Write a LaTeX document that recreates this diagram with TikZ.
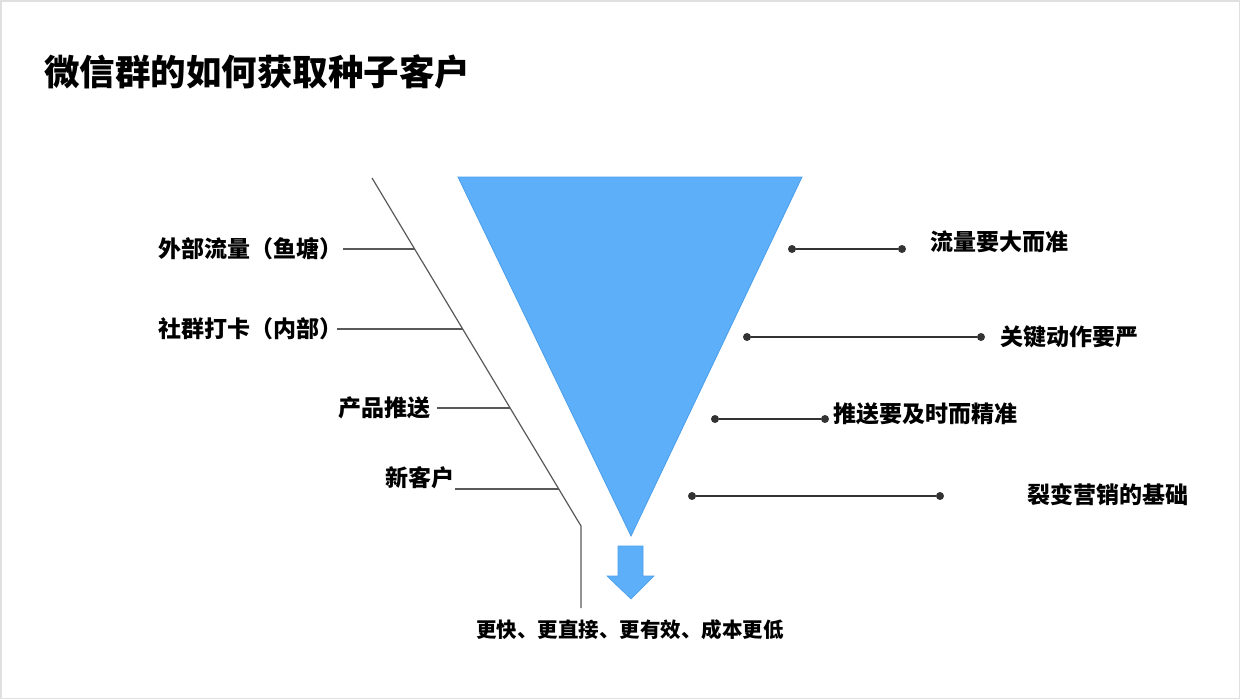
\documentclass[tikz,border=0pt]{standalone}
\usepackage{fontspec}
\usepackage{xcolor}
\usetikzlibrary{shapes, positioning}
\newfontfamily\cjk{Noto Sans CJK SC}
\definecolor{funnelblue}{HTML}{5DAFF9}
\definecolor{funneledge}{HTML}{4A9EEA}
\definecolor{darkline}{HTML}{333333}
\tikzset{
    lbl/.style={inner sep=0pt, font=\cjk\bfseries\fontsize{23}{25}\selectfont},
    pin/.style={circle, fill=darkline, inner sep=0pt, minimum size=8pt},
    thin/.style={draw=black!65, line width=1.2pt},
    rule/.style={draw=darkline, line width=1.6pt}
}

\begin{document}
\begin{tikzpicture}[x=1pt, y=-1pt]
        \useasboundingbox (0, 0) rectangle (1240, 699);
        \draw[black!12, line width=3pt] (0, 0) rectangle (1240, 699);
        
        \node[lbl, anchor=west, font=\cjk\bfseries\fontsize{35.5}{38}\selectfont] (title) at (44, 72) {微信群的如何获取种子客户};
        
        % funnel
        \coordinate (tl) at (458, 177);
        \coordinate (tr) at (802, 177);
        \coordinate (tip) at (631, 536);
        \fill[funnelblue, draw=funneledge, line width=0.8pt] (tl) -- (tr) -- (tip) -- cycle;
        
        % outer side line
        \coordinate (s0) at (372, 178);
        \coordinate (s1) at (415, 249);
        \coordinate (s2) at (463, 329);
        \coordinate (s3) at (510, 408);
        \coordinate (s4) at (559, 489);
        \coordinate (s5) at (581, 526);
        \coordinate (s6) at (581, 608);
        \draw[thin] (s0) -- (s5) -- (s6);
        
        \node[lbl, anchor=east] (a) at (343, 249) {外部流量（鱼塘）};
        \node[lbl, anchor=east] (b) at (343, 329) {社群打卡（内部）};
        \node[lbl, anchor=east] (c) at (431, 408) {产品推送};
        \node[lbl, anchor=south east] (d) at (455, 489) {新客户};
        
        \draw[thin] (a.east) to (s1)
            ([xshift=-6pt]b.east) to (s2)
            ([xshift=6pt]c.east) to (s3)
            (d.south east) to (s4);
        
        % right side rules
        \node[pin] (p1) at (792, 249) {};
        \node[pin] (q1) at (902, 249) {};
        \node[pin] (p2) at (747, 337) {};
        \node[pin] (q2) at (981, 337) {};
        \node[pin] (p3) at (715, 419) {};
        \node[pin] (q3) at (825, 419) {};
        \node[pin] (p4) at (692, 496) {};
        \node[pin] (q4) at (940, 496) {};
        
        \draw[rule] (p1) to (q1)
            (p2) to (q2)
            (p3) to (q3)
            (p4) to (q4);
        
        \node[lbl, anchor=west] (e) at (930, 242) {流量要大而准};
        \node[lbl, anchor=west] (f) at (1000, 337) {关键动作要严};
        \node[lbl, anchor=west] (g) at (833, 414) {推送要及时而精准};
        \node[lbl, anchor=west] (h) at (1027, 495) {裂变营销的基础};
        
        % down arrow
        \fill[funnelblue, draw=funneledge, line width=0.6pt] (618, 546) -- (643, 546) -- (643, 576)
            -- (654, 576) -- (631, 599) -- (607, 576) -- (618, 576) -- cycle;
        
        \node[lbl, font=\cjk\bfseries\fontsize{20.5}{22}\selectfont] (out) at (630, 630) {更快、更直接、更有效、成本更低};
    \end{tikzpicture}
\end{document}
